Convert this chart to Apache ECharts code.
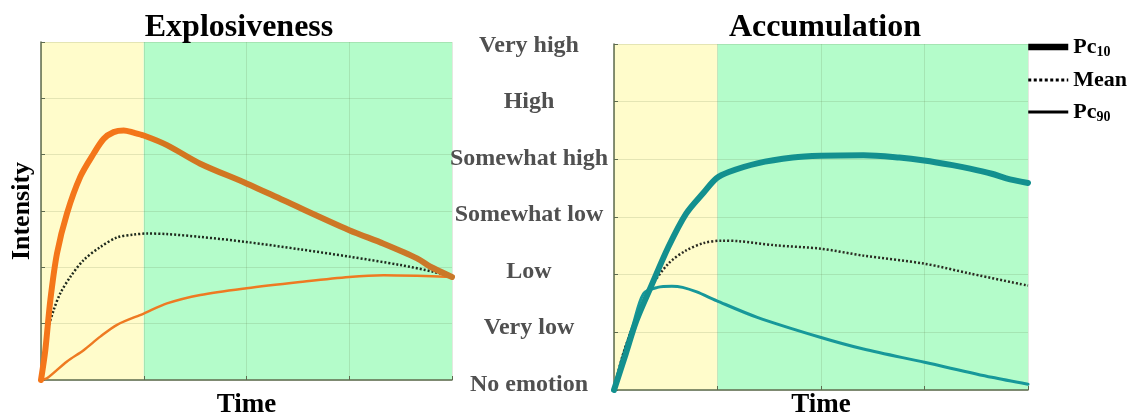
<!DOCTYPE html>
<html>
<head>
<meta charset="utf-8">
<script src="https://cdn.jsdelivr.net/npm/echarts@6/dist/echarts.min.js"></script>
<style>
html,body{margin:0;padding:0;background:#fff;}
#chart{width:1138px;height:416px;}
</style>
</head>
<body>
<div id="chart"></div>
<script>
// ---- data ----
var levelLabels = ['No emotion','Very low','Low','Somewhat low','Somewhat high','High','Very high'];
var phaseBreaks = [0, 1, 4];

var explPc10X = [0, 0.042, 0.091, 0.156, 0.253, 0.383, 0.513, 0.61, 0.707, 0.805, 0.902, 1.0, 1.226, 1.55, 2.0, 2.36, 3.0, 3.335, 3.66, 3.79, 4.0];
var explPc10Y = [0, 0.53, 1.42, 2.25, 2.96, 3.61, 4.02, 4.28, 4.40, 4.43, 4.39, 4.34, 4.17, 3.84, 3.49, 3.19, 2.66, 2.42, 2.16, 2.01, 1.83];

var explMeanX = [0, 0.058, 0.123, 0.188, 0.285, 0.415, 0.577, 0.74, 0.902, 1.03, 1.226, 1.55, 2.0, 2.52, 3.0, 3.5, 3.82, 4.0];
var explMeanY = [0, 0.83, 1.24, 1.54, 1.83, 2.13, 2.36, 2.53, 2.58, 2.60, 2.59, 2.54, 2.45, 2.32, 2.19, 2.04, 1.92, 1.83];

var explPc90X = [0, 0.058, 0.253, 0.415, 0.577, 0.74, 1.0, 1.226, 1.55, 2.0, 2.52, 3.0, 3.335, 3.66, 4.0];
var explPc90Y = [0, 0.03, 0.33, 0.53, 0.77, 0.98, 1.18, 1.36, 1.51, 1.63, 1.74, 1.83, 1.86, 1.85, 1.83];

var accuPc10X = [0, 0.113, 0.216, 0.354, 0.525, 0.697, 0.869, 0.989, 1.109, 1.384, 1.727, 2.0, 2.41, 2.757, 2.997, 3.27, 3.44, 3.65, 3.79, 4.0];
var accuPc10Y = [0, 0.625, 1.20, 1.78, 2.48, 3.06, 3.43, 3.67, 3.78, 3.93, 4.03, 4.06, 4.07, 4.03, 3.98, 3.90, 3.84, 3.75, 3.67, 3.59];

var accuMeanX = [0, 0.079, 0.18, 0.268, 0.336, 0.525, 0.697, 0.869, 1.04, 1.21, 1.555, 2.0, 2.41, 3.0, 3.44, 4.0];
var accuMeanY = [0, 0.57, 1.09, 1.44, 1.73, 2.19, 2.42, 2.55, 2.59, 2.58, 2.51, 2.45, 2.33, 2.19, 2.02, 1.81];

var accuPc90X = [0, 0.08, 0.18, 0.285, 0.42, 0.56, 0.663, 0.80, 0.989, 1.384, 2.0, 2.41, 3.0, 3.65, 4.0];
var accuPc90Y = [0, 0.55, 1.10, 1.67, 1.78, 1.80, 1.78, 1.70, 1.55, 1.26, 0.91, 0.71, 0.48, 0.22, 0.10];

function zip(xs, ys){ return xs.map(function(x,i){ return [x, ys[i]]; }); }

// ---- styles ----
var SERIF = "'Liberation Serif','Times New Roman',serif";
var AXIS_COLOR = '#5e6b4e';
var GRID_COLOR = 'rgba(90,110,60,0.16)';
var YELLOW = '#fffccb';
var GREEN = '#b4fcca';

function xAx(gi, nameGap){
  return {
    type:'value', gridIndex:gi, min:0, max:4, interval:1, z:2,
    name:'Time', nameLocation:'middle', nameGap:nameGap,
    nameTextStyle:{fontFamily:SERIF, fontWeight:'bold', fontSize:27, color:'#000'},
    axisLine:{show:true, onZero:false, lineStyle:{color:AXIS_COLOR, width:1.5}},
    axisTick:{show:true, inside:true, length:4, lineStyle:{color:AXIS_COLOR}},
    axisLabel:{show:false},
    splitLine:{show:true, lineStyle:{color:GRID_COLOR, width:1}}
  };
}
function yAx(gi, name){
  return {
    type:'value', gridIndex:gi, min:0, max:6, interval:1, z:2,
    name:name, nameLocation:'middle', nameGap:6, nameRotate:90,
    nameTextStyle:{fontFamily:SERIF, fontWeight:'bold', fontSize:26, color:'#000'},
    axisLine:{show:true, onZero:false, lineStyle:{color:AXIS_COLOR, width:1.5}},
    axisTick:{show:true, inside:true, length:4, lineStyle:{color:AXIS_COLOR}},
    axisLabel:{show:false},
    splitLine:{show:true, lineStyle:{color:GRID_COLOR, width:1}}
  };
}
function bgSeries(gi){
  return {
    type:'line', name:'phase', xAxisIndex:gi, yAxisIndex:gi, data:[], z:0, silent:true,
    markArea:{silent:true, z:0, data:[
      [{xAxis:phaseBreaks[0], itemStyle:{color:YELLOW}}, {xAxis:phaseBreaks[1]}],
      [{xAxis:phaseBreaks[1], itemStyle:{color:GREEN}}, {xAxis:phaseBreaks[2]}]
    ]}
  };
}
function curve(gi, name, data, color, width, dash){
  return {
    type:'line', name:name, xAxisIndex:gi, yAxisIndex:gi, data:data, z:4,
    showSymbol:false, symbol:'none', smooth:0.3,
    lineStyle:{color:color, width:width, type:dash || 'solid', cap:dash ? 'butt' : 'round', join:'round'},
    itemStyle:{color:color}
  };
}

var orangeGrad = new echarts.graphic.LinearGradient(0,0,1,0,[
  {offset:0, color:'#f4761a'}, {offset:0.24, color:'#f4761a'},
  {offset:0.30, color:'#d3761f'}, {offset:1, color:'#c9782a'}
]);

var chart = echarts.init(document.getElementById('chart'), null, {renderer:'canvas'});
chart.setOption({
  backgroundColor:'#ffffff',
  animation:false,
  title:[
    {text:'Explosiveness', left:234, top:7, textAlign:'center',
     textStyle:{fontFamily:SERIF, fontWeight:'bold', fontSize:32, color:'#000'}},
    {text:'Accumulation', left:820, top:7, textAlign:'center',
     textStyle:{fontFamily:SERIF, fontWeight:'bold', fontSize:32, color:'#000'}}
  ],
  legend:{
    orient:'vertical', left:1020, top:31, itemWidth:40, itemHeight:12, itemGap:10,
    selectedMode:false,
    data:[
      {name:'Pc10', itemStyle:{opacity:0}, lineStyle:{color:'#000', width:6.5, type:'solid', cap:'butt'}},
      {name:'Mean', itemStyle:{opacity:0}, lineStyle:{color:'#000', width:3, type:[3,2.5], cap:'butt'}},
      {name:'Pc90', itemStyle:{opacity:0}, lineStyle:{color:'#000', width:3, type:'solid', cap:'butt'}}
    ],
    formatter:function(n){
      if(n==='Pc10') return '{b|Pc}{s|10}';
      if(n==='Pc90') return '{b|Pc}{s|90}';
      return '{b|'+n+'}';
    },
    textStyle:{
      color:'#000', fontFamily:SERIF, fontWeight:'bold', fontSize:22,
      rich:{
        b:{fontFamily:SERIF, fontWeight:'bold', fontSize:22, color:'#000', lineHeight:24},
        s:{fontFamily:SERIF, fontWeight:'bold', fontSize:14, color:'#000', lineHeight:24, verticalAlign:'bottom', padding:[8,0,0,0]}
      }
    }
  },
  grid:[
    {left:41, top:42, width:411, height:338, outerBoundsMode:'none', containLabel:false},
    {left:614, top:44, width:414, height:346, outerBoundsMode:'none', containLabel:false},
    {left:440, top:45.5, width:12, height:339, outerBoundsMode:'none', containLabel:false}
  ],
  xAxis:[ xAx(0, 12), xAx(1, 2),
    {type:'value', gridIndex:2, min:0, max:1, show:false}
  ],
  yAxis:[ yAx(0, 'Intensity'), yAx(1, ''),
    {type:'value', gridIndex:2, position:'right', min:0, max:6, interval:1,
     axisLine:{show:false}, axisTick:{show:false}, splitLine:{show:false},
     axisLabel:{show:true, margin:77, align:'center',
       fontFamily:SERIF, fontWeight:'bold', fontSize:24, color:'#505050',
       formatter:function(v){ return levelLabels[Math.round(v)] || ''; }}
    }
  ],
  series:[
    bgSeries(0),
    curve(0, 'Pc90', zip(explPc90X, explPc90Y), '#ee7a22', 2.5),
    curve(0, 'Mean', zip(explMeanX, explMeanY), '#1f2a1e', 2.5, [2,2]),
    curve(0, 'Pc10', zip(explPc10X, explPc10Y), orangeGrad, 6),
    bgSeries(1),
    curve(1, 'Pc90', zip(accuPc90X, accuPc90Y), '#17989a', 3),
    curve(1, 'Mean', zip(accuMeanX, accuMeanY), '#2b2b22', 2.5, [2,2]),
    curve(1, 'Pc10', zip(accuPc10X, accuPc10Y), '#13908f', 6)
  ]
});
</script>
</body>
</html>
